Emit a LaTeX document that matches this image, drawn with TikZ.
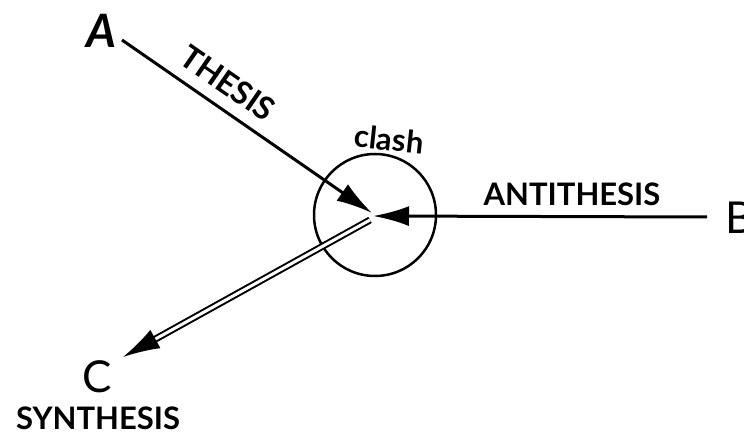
\documentclass[tikz,border=0pt]{standalone}
\usepackage{fontspec}
\setmainfont{Lato}
\usetikzlibrary{arrows.meta}
\begin{document}
\begin{tikzpicture}[x=1pt,y=-1pt,
  lbl/.style={inner sep=0pt, font=\fontsize{31}{33}\selectfont\bfseries},
  big/.style={inner sep=0pt},
  conn/.style={line width=3pt, -{Latex[length=36pt,width=20pt]}},
  synth/.style={double, double distance=3pt, line width=2pt, -{Latex[length=37pt,width=21pt]}}]
\useasboundingbox (0,0) rectangle (744,435);
% letters
\node[big, font=\fontsize{46}{48}\selectfont\bfseries\itshape] (A) at (101,31) {A};
\node[big, font=\fontsize{44}{46}\selectfont] (B) at (740,218) {B};
\node[big, font=\fontsize{44}{46}\selectfont] (C) at (97,377) {C};
\node[lbl, font=\fontsize{31}{33}\selectfont\bfseries] (syn) at (98,418) {SYNTHESIS};
% circle
\coordinate (O) at (375,215);
\node[draw, circle, line width=2.5pt, minimum size=122pt, inner sep=0pt] (clashc) at (O) {};
\node[lbl, rotate=-6, font=\fontsize{31}{33}\selectfont\bfseries] (clash) at (389,139) {clash};
% connectors ends
\coordinate (aS) at (122,40);
\coordinate (tT) at (372,213);
\coordinate (bS) at (707,217);
\coordinate (tB) at (373,216);
\coordinate (sS) at (370,220);
\coordinate (tC) at (123,357);
\draw[conn] (aS) -- (tT);
\draw[conn] (bS) -- (tB);
\draw[synth] (sS) -- (tC);
% labels
\node[lbl] (anti) at (572,194) {ANTITHESIS};
\node[lbl, font=\fontsize{32}{34}\selectfont\bfseries, rotate=-34.7] (thesis) at (228,83) {THESIS};
\end{tikzpicture}
\end{document}
